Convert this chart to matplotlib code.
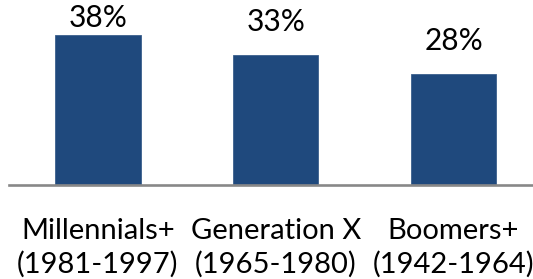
import matplotlib
matplotlib.use("Agg")
import matplotlib.pyplot as plt

categories = ["Millennials+\n(1981-1997)", "Generation X\n(1965-1980)", "Boomers+\n(1942-1964)"]
values = [38, 33, 28]
value_labels = ["38%", "33%", "28%"]

plt.rcParams['font.family'] = ['Lato', 'DejaVu Sans']

fig = plt.figure(figsize=(5.33, 2.79), dpi=100)
ax = fig.add_axes([9/533, 94/279, 524/533, 185/279])
x = list(range(len(values)))
ax.bar(x, values, width=0.48, color="#1F497D", edgecolor="#3B5F8C", linewidth=0.6, zorder=2)
ax.set_xlim(-0.5, 2.447)
ax.set_ylim(0, 46.8)

for xi, v, lab in zip(x, values, value_labels):
    off = 0.6 if v == max(values) else 4.8
    ax.text(xi, v + off, lab, ha="center", va="bottom", fontsize=21.5, color="black")

ax.set_xticks(x)
ax.set_xticklabels(categories, fontsize=21, linespacing=1.3)
ax.tick_params(axis="x", length=0, pad=24)
ax.set_yticks([])
for s in ["top", "right", "left"]:
    ax.spines[s].set_visible(False)
ax.spines["bottom"].set_color("#888888")
ax.spines["bottom"].set_linewidth(1.9)
ax.spines["bottom"].set_zorder(3)

fig.savefig("out.png", dpi=100)
